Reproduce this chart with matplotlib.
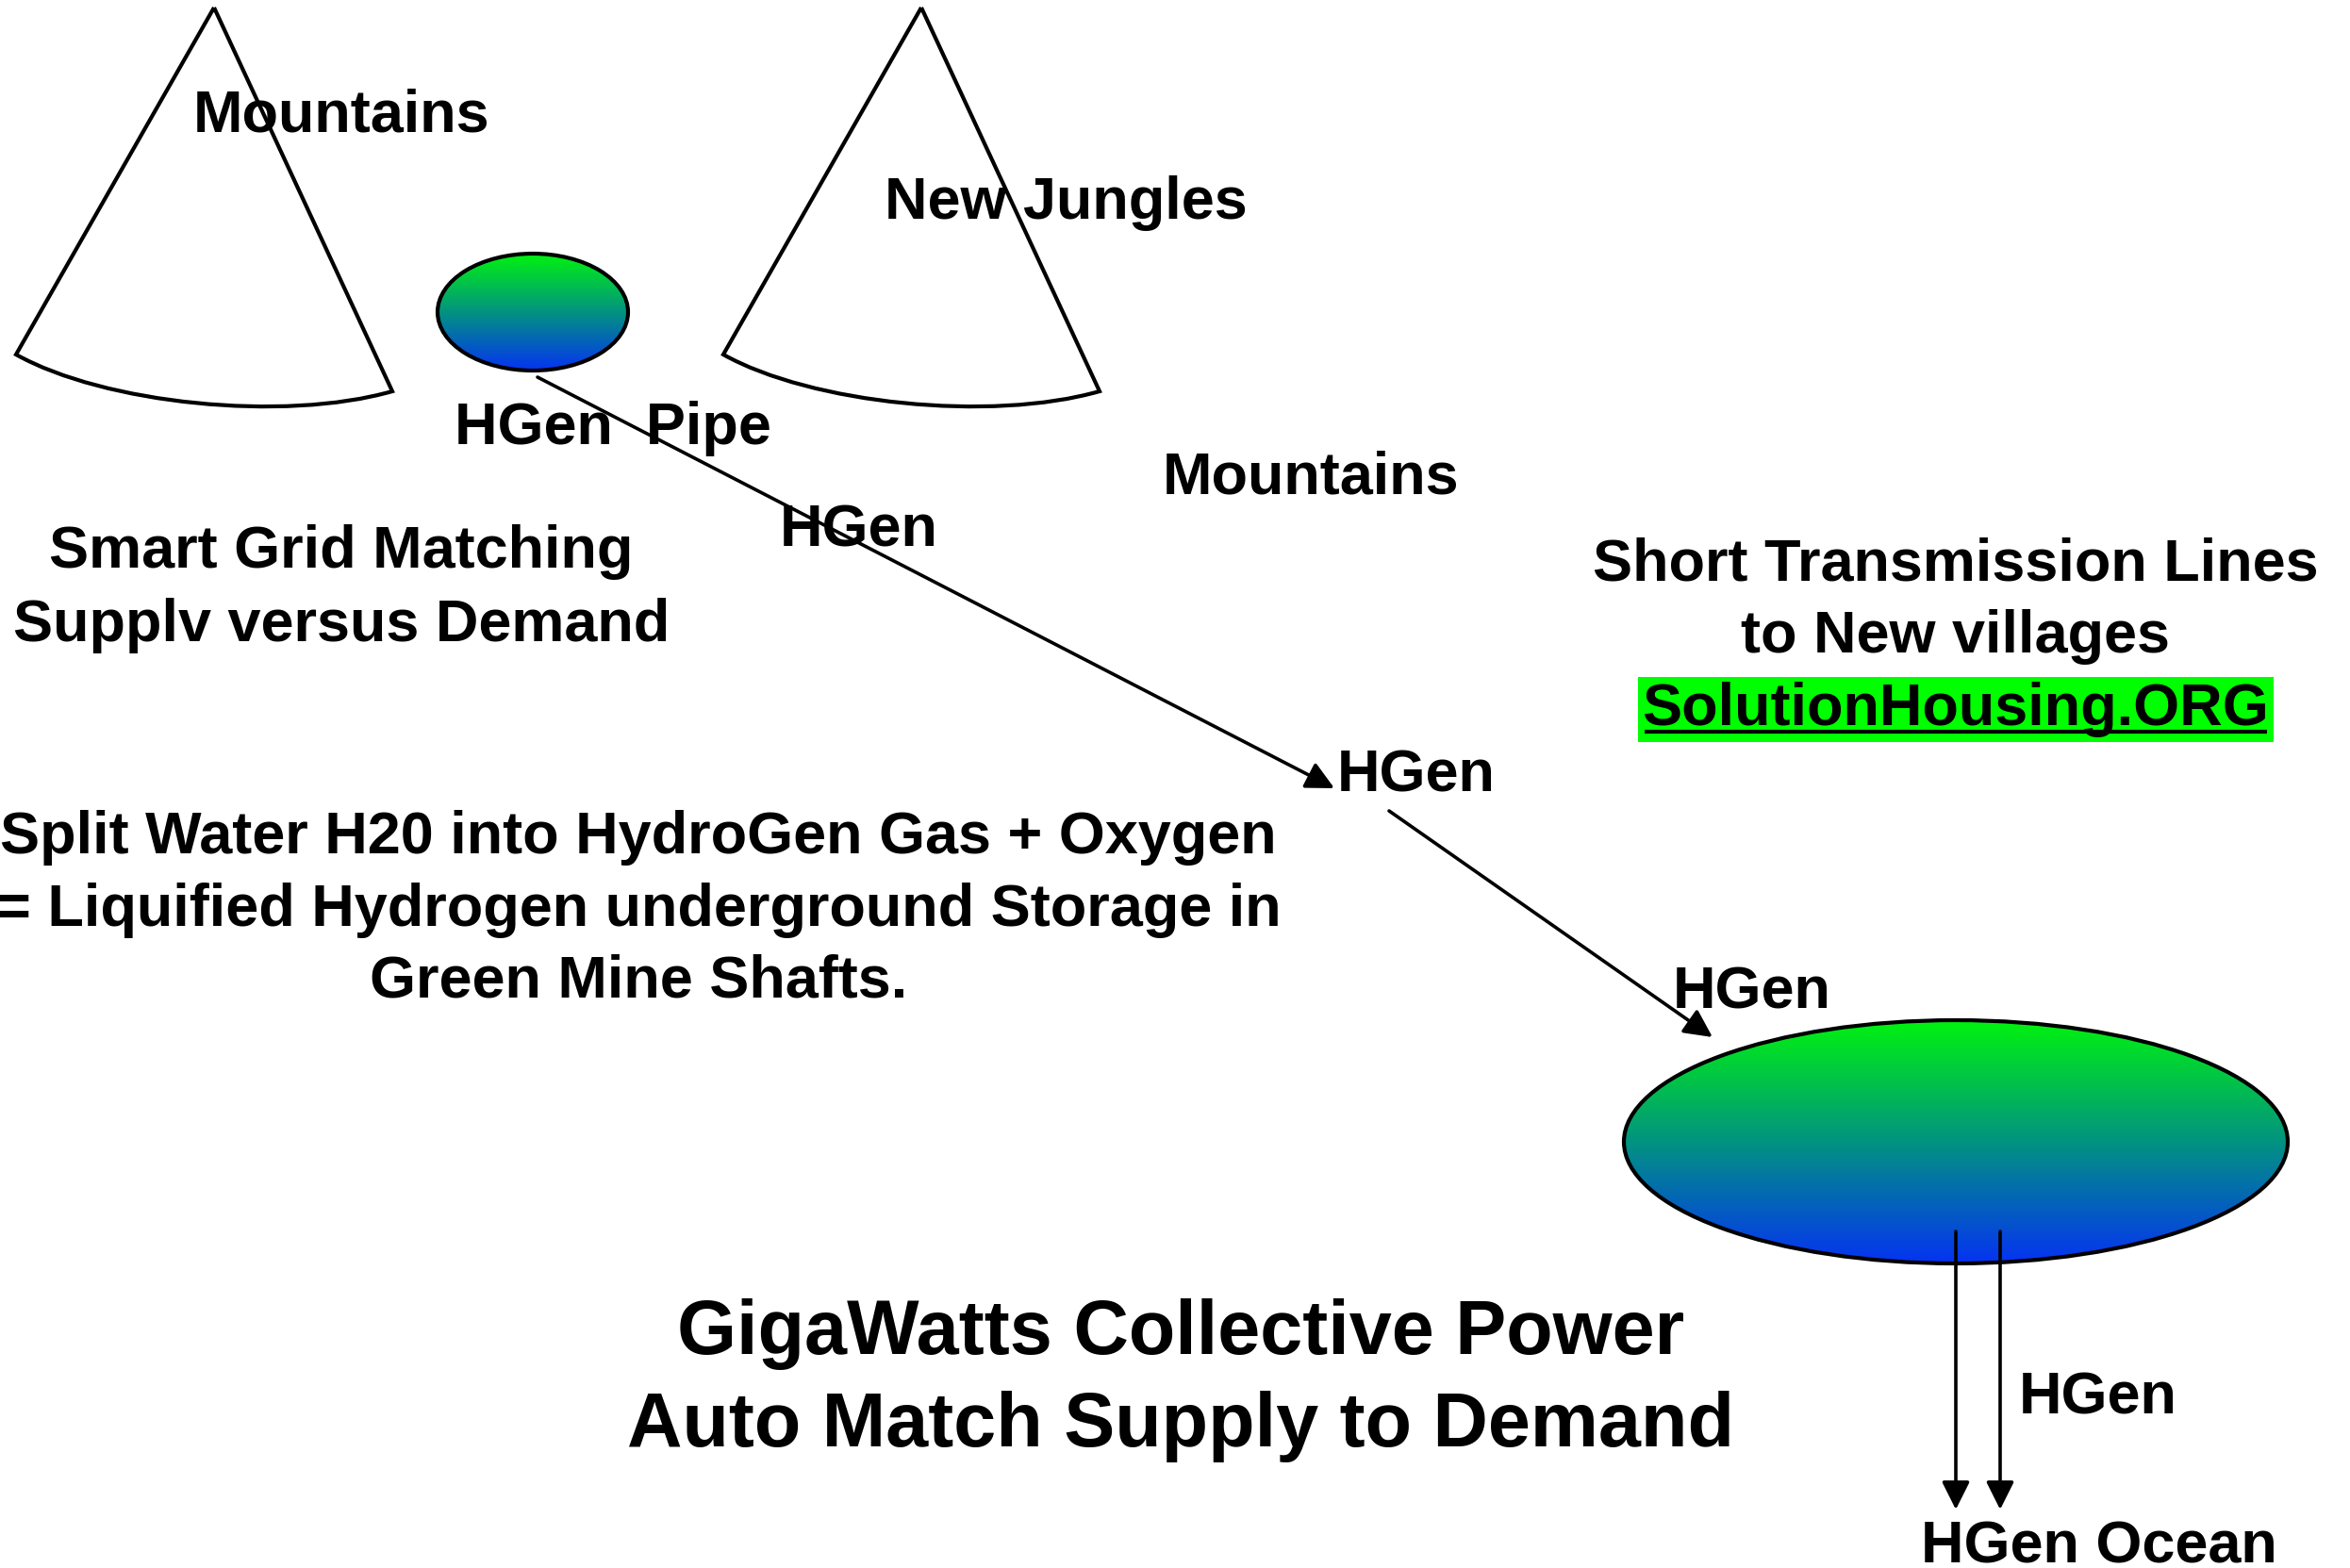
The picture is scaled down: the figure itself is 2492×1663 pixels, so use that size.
import numpy as np
import matplotlib
matplotlib.use("Agg")
import matplotlib.pyplot as plt
from matplotlib.patches import Ellipse, PathPatch, FancyArrowPatch
from matplotlib.path import Path

plt.rcParams['font.family'] = ['Liberation Sans', 'DejaVu Sans']
plt.rcParams['font.weight'] = 'bold'

W, H = 2492, 1663

# cones (apex x offsets), drawn from one template
cone_offsets = [0, 750]
# ellipses: centre x, centre y, width, height
ellipses = [(565, 331, 202, 124), (2074, 1211, 704, 258)]
# arrows: start -> end
arrows = [((570, 400), (1415, 836)),
          ((1473, 860), (1816, 1100)),
          ((2074, 1306), (2074, 1601)),
          ((2121, 1306), (2121, 1601))]

# small labels: text, centre x, baseline y
labels = ["Mountains", "New Jungles", "HGen  Pipe", "HGen", "Mountains",
          "HGen", "HGen", "HGen", "HGen Ocean"]
label_x = [362, 1130, 650, 911, 1390, 1502, 1858, 2225, 2226]
label_y = [140, 232, 471, 579, 523, 839, 1069, 1499, 1658]

# multi-line blocks
smart_lines = ["Smart Grid Matching", "Supplv versus Demand"]
smart_y = [602, 680]
split_lines = ["Split Water H20 into HydroGen Gas + Oxygen",
               "= Liquified Hydrogen underground Storage in",
               "Green Mine Shafts."]
split_y = [905, 982, 1058]
short_lines = ["Short Transmission Lines", "to New villages"]
short_y = [615, 692]
site_name = "SolutionHousing.ORG"
site_y = 769
giga_lines = ["GigaWatts Collective Power", "Auto Match Supply to Demand"]
giga_y = [1436, 1534]

fig = plt.figure(figsize=(W / 100, H / 100), dpi=100)
ax = fig.add_axes([0, 0, 1, 1])
ax.set_xlim(0, W)
ax.set_ylim(H, 0)
ax.axis('off')

small = 45.4
big = 58.3


def cone(dx):
    verts = [(227 + dx, 8), (17 + dx, 376),
             (110 + dx, 428), (300 + dx, 448), (416 + dx, 415),
             (227 + dx, 8)]
    codes = [Path.MOVETO, Path.LINETO, Path.CURVE4, Path.CURVE4, Path.CURVE4,
             Path.LINETO]
    return PathPatch(Path(verts, codes), facecolor='white', edgecolor='black',
                     lw=3.0, joinstyle='miter')


for dx in cone_offsets:
    ax.add_patch(cone(dx))

# green -> blue gradient
grad = np.linspace(0, 1, 256)[:, None]
top = np.array([0.0, 0.95, 0.06])
bot = np.array([0.02, 0.2, 0.95])
img = top[None, None, :] * (1 - grad[:, :, None]) + bot[None, None, :] * grad[:, :, None]

for cx, cy, ew, eh in ellipses:
    e = Ellipse((cx, cy), ew, eh, facecolor='none', edgecolor='none')
    ax.add_patch(e)
    im = ax.imshow(img, extent=(cx - ew / 2, cx + ew / 2, cy + eh / 2, cy - eh / 2),
                   aspect='auto', zorder=2)
    im.set_clip_path(e)
    ax.add_patch(Ellipse((cx, cy), ew, eh, facecolor='none', edgecolor='black',
                         lw=3.0, zorder=3))

for (x0, y0), (x1, y1) in arrows:
    ax.add_patch(FancyArrowPatch((x0, y0), (x1, y1),
                                 arrowstyle='-|>,head_length=0.6,head_width=0.3',
                                 mutation_scale=30, color='black', lw=2.6,
                                 shrinkA=0, shrinkB=0, zorder=4))

for t, x, y in zip(labels, label_x, label_y):
    ax.text(x, y, t, fontsize=small, ha='center', va='baseline', zorder=5)

for t, y in zip(smart_lines, smart_y):
    ax.text(362, y, t, fontsize=small, ha='center', va='baseline')
for t, y in zip(split_lines, split_y):
    ax.text(677, y, t, fontsize=small, ha='center', va='baseline')
for t, y in zip(short_lines, short_y):
    ax.text(2074, y, t, fontsize=small, ha='center', va='baseline')
for t, y in zip(giga_lines, giga_y):
    ax.text(1252, y, t, fontsize=big, ha='center', va='baseline')

site = ax.text(2074, site_y, site_name, fontsize=small, ha='center', va='baseline',
               zorder=5,
               bbox=dict(boxstyle='square,pad=0.08', facecolor='#00FF00',
                         edgecolor='none'))

# underline the site name
fig.canvas.draw()
bb = site.get_window_extent().transformed(ax.transData.inverted())
ax.plot([min(bb.x0, bb.x1) + 2, max(bb.x0, bb.x1) - 2], [site_y + 7, site_y + 7],
        color='black', lw=3, solid_capstyle='butt', zorder=6)

fig.savefig("out.png", dpi=100, facecolor='white')
